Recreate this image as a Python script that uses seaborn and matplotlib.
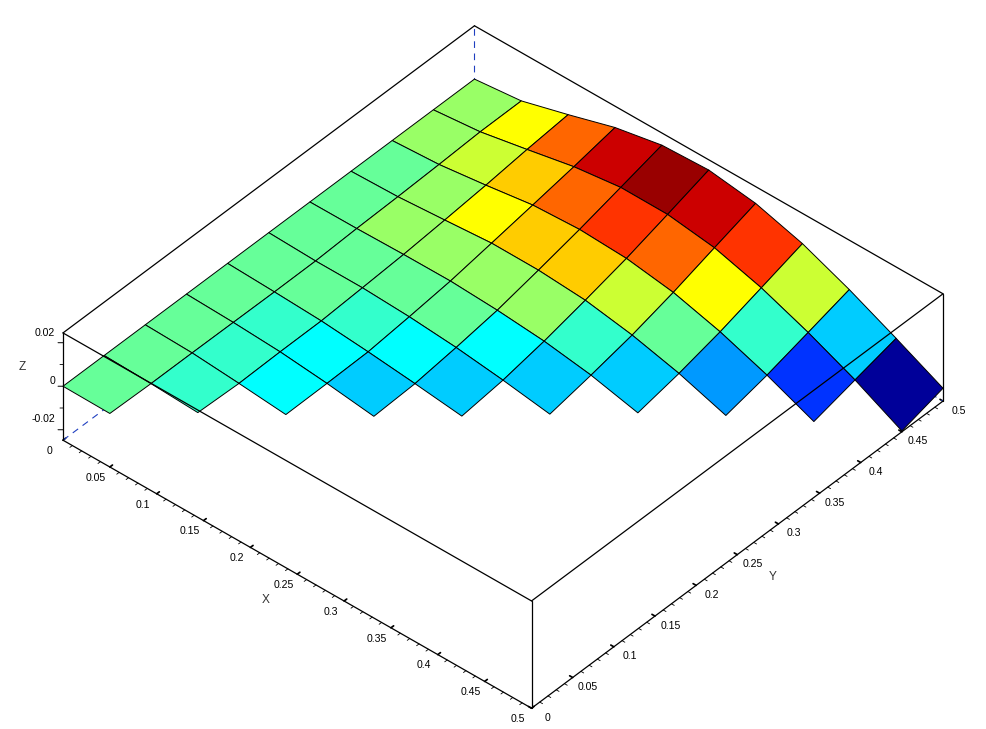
import numpy as np
import matplotlib
matplotlib.use("Agg")
import matplotlib.pyplot as plt
import matplotlib.transforms as mtransforms
import seaborn as sns
from mpl_toolkits.mplot3d import proj3d
from mpl_toolkits.mplot3d.art3d import Poly3DCollection

# ---- data -----------------------------------------------------------------
grid_values = [0.0, 0.05, 0.1, 0.15, 0.2, 0.25, 0.3, 0.35, 0.4, 0.45, 0.5]

# z (x 1e-3) for each Y index j, for X index i = 0 .. min(j + 1, 10)
z_y00 = [0.0, -0.2]
z_y01 = [0.0, -0.6, -1.6]
z_y02 = [0.0, -0.6, -2.3, -4.3]
z_y03 = [0.0, -0.7, -1.9, -4.1, -6.9]
z_y04 = [0.0, -0.8, -1.8, -3.7, -6.0, -8.6]
z_y05 = [0.0, -0.7, -0.7, -1.7, -3.5, -6.2, -9.5]
z_y06 = [0.0, 0.1, 0.5, 0.6, -0.5, -2.4, -5.7, -10.7]
z_y07 = [0.0, 0.6, 2.2, 3.9, 3.8, 2.3, -1.4, -6.7, -13.7]
z_y08 = [0.0, 1.3, 4.1, 7.3, 8.4, 7.4, 4.1, -1.7, -9.3, -18.3]
z_y09 = [0.0, 2.2, 6.4, 10.8, 13.6, 13.5, 10.5, 4.4, -3.8, -13.3, -24.4]
z_y10 = [0.0, 2.3, 8.3, 14.7, 18.9, 19.8, 16.8, 10.6, 1.8, -8.3, -18.9]
z_rows = [z_y00, z_y01, z_y02, z_y03, z_y04, z_y05, z_y06, z_y07, z_y08, z_y09, z_y10]

# colour level of each cell (i, i + d), listed by diagonal d
levels_d0 = [9, 8, 7, 6, 6, 6, 6, 5, 3, 0]
levels_d1 = [9, 8, 7, 7, 7, 8, 9, 8, 6]
levels_d2 = [9, 8, 8, 9, 10, 11, 12, 11]
levels_d3 = [9, 9, 9, 10, 13, 15, 16]
levels_d4 = [9, 9, 10, 13, 16, 18]
levels_d5 = [9, 10, 12, 15, 19]
levels_d6 = [9, 10, 13, 18]
levels_d7 = [9, 11, 15]
levels_d8 = [10, 12]
levels_d9 = [10]
cell_levels = [levels_d0, levels_d1, levels_d2, levels_d3, levels_d4,
               levels_d5, levels_d6, levels_d7, levels_d8, levels_d9]

jet_levels = ["#000099", "#0000cc", "#0000ff", "#0033ff", "#0066ff", "#0099ff", "#00ccff",
              "#00ffff", "#33ffcc", "#66ff99", "#99ff66", "#ccff33", "#ffff00", "#ffcc00",
              "#ff9900", "#ff6600", "#ff3300", "#ff0000", "#cc0000", "#990000"]

x_major = [0, 0.05, 0.1, 0.15, 0.2, 0.25, 0.3, 0.35, 0.4, 0.45, 0.5]
x_major_labels = ["0", "0.05", "0.1", "0.15", "0.2", "0.25", "0.3", "0.35", "0.4", "0.45", "0.5"]
z_major = [-0.02, 0, 0.02]
z_major_labels = ["-0.02", "0", "0.02"]
z_minor = [-0.01, 0.01]
axis_min, axis_max = 0.0, 0.5
z_min, z_max = -0.0248, 0.0245

# ---- figure ---------------------------------------------------------------
sns.set_theme(style="white", rc={"font.family": ["Liberation Sans", "DejaVu Sans"]})
palette = sns.color_palette(jet_levels, n_colors=len(jet_levels))

W, H = 987, 729
fig = plt.figure(figsize=(W / 100, H / 100), dpi=100, facecolor="white")
ZOOM = 0.8
S = 893.4 * 1.85 / (1.9057 * ZOOM)
cx, cy = 503.0, H - 367.0
left = cx - 0.95 / 1.85 * S
bottom = cy - 0.95 / 1.85 * S
ax = fig.add_axes([left / W, bottom / H, S / W, S / H], projection="3d",
                  proj_type="ortho", computed_zorder=False)
ax.patch.set_alpha(0)
ax.view_init(elev=40.8, azim=-48.8)
ax.set_box_aspect((622.7, 624.7, 141.7), zoom=ZOOM)
ax.set_xlim(axis_min, axis_max, view_margin=0)
ax.set_ylim(axis_min, axis_max, view_margin=0)
ax.set_zlim(z_min, z_max, view_margin=0)
ax.grid(False)

# surface cells
polys, faces = [], []
for d, diagonal in enumerate(cell_levels):
    for i, level in enumerate(diagonal):
        j = i + d
        corners = [(i, j), (i + 1, j), (i + 1, j + 1), (i, j + 1)]
        polys.append([(grid_values[a], grid_values[b], z_rows[b][a] / 1000) for a, b in corners])
        faces.append(palette[level])
surface = Poly3DCollection(polys, facecolors=faces, edgecolors="black",
                           linewidths=0.7, zorder=2)
ax.add_collection3d(surface, autolim=False)

# box lines
hidden = dict(color="#1f3fc0", lw=0.8, ls=(0, (6, 5)), zorder=1)
ax.plot([axis_min, axis_min], [axis_min, axis_max], [z_min, z_min], **hidden)
ax.plot([axis_min, axis_max], [axis_max, axis_max], [z_min, z_min], **hidden)
ax.plot([axis_min, axis_min], [axis_max, axis_max], [z_min, z_max], **hidden)
ln = dict(color="black", lw=0.9, zorder=3)
ax.plot([axis_min, axis_min], [axis_min, axis_max], [z_max, z_max], **ln)
ax.plot([axis_min, axis_max], [axis_max, axis_max], [z_max, z_max], **ln)
ax.plot([axis_min, axis_max], [axis_min, axis_min], [z_max, z_max], **ln)
ax.plot([axis_max, axis_max], [axis_min, axis_max], [z_max, z_max], **ln)
ax.plot([axis_min, axis_min], [axis_min, axis_min], [z_min, z_max], **ln)
ax.plot([axis_max, axis_max], [axis_min, axis_min], [z_min, z_max], **ln)
ax.plot([axis_max, axis_max], [axis_max, axis_max], [z_min, z_max], **ln)
ax.plot([axis_min, axis_max], [axis_min, axis_min], [z_min, z_min], **ln)
ax.plot([axis_max, axis_max], [axis_min, axis_max], [z_min, z_min], **ln)

# axes: panes off, ticks and labels
for axis in (ax.xaxis, ax.yaxis, ax.zaxis):
    axis.set_pane_color((1, 1, 1, 0))
    axis.pane.set_edgecolor((1, 1, 1, 0))
    axis.line.set_color((0, 0, 0, 0))
    axis._axinfo["tick"]["inward_factor"] = 0.0
    axis._axinfo["tick"]["outward_factor"] = 0.08
    axis._axinfo["label"]["va"] = "bottom"
    axis.set_rotate_label(False)

ax.set_xticks(x_major, x_major_labels)
ax.set_yticks(x_major, x_major_labels)
ax.set_zticks([])
ax.tick_params(axis="both", labelsize=7.6, colors="black", width=0.7, length=4, pad=5.5)
for axis in (ax.xaxis, ax.yaxis):
    for tick in axis.get_major_ticks():
        tick.label1.set_va("baseline")
ax.set_xlabel("X", fontsize=8.6, color="#333333", labelpad=10, rotation=0)
ax.set_ylabel("Y", fontsize=8.6, color="#333333", labelpad=10, rotation=0)


# Z axis sits on the left edge of the box: its ticks and labels follow that edge
def edge_point(z_value):
    px, py, _ = proj3d.proj_transform(0, 0, z_value, ax.get_proj())
    return px, py


label_shift = dict(zip(z_major, [11, 5, 9.5]))
for z_tick, z_text in zip(z_major, z_major_labels):
    ax.plot([0, -0.003], [0, -0.0026], [z_tick, z_tick], color="black", lw=0.7, zorder=3)
    px, py = edge_point(z_tick)
    ax.text2D(px, py, z_text, fontsize=7.6, color="black", ha="right", va="center",
              transform=mtransforms.offset_copy(ax.transData, fig=fig, x=-8,
                                                y=label_shift[z_tick], units="dots"))
for z_tick in z_minor:
    ax.plot([0, -0.0018], [0, -0.0016], [z_tick, z_tick], color="black", lw=0.6, zorder=3)
px, py = edge_point(0)
ax.text2D(px, py, "Z", fontsize=8.6, color="#333333", ha="center", va="center",
          transform=mtransforms.offset_copy(ax.transData, fig=fig, x=-41, y=19, units="dots"))

# minor ticks every 0.01
minor = np.arange(0.01, 0.5, 0.01)
for m in minor:
    if round(m / 0.05, 6) % 1 == 0:
        continue
    ax.plot([m, m], [0, -0.003], [z_min, z_min], color="black", lw=0.6, zorder=3)
    ax.plot([0.5, 0.503], [m, m], [z_min, z_min], color="black", lw=0.6, zorder=3)

fig.savefig("out.png", dpi=100, facecolor="white")
